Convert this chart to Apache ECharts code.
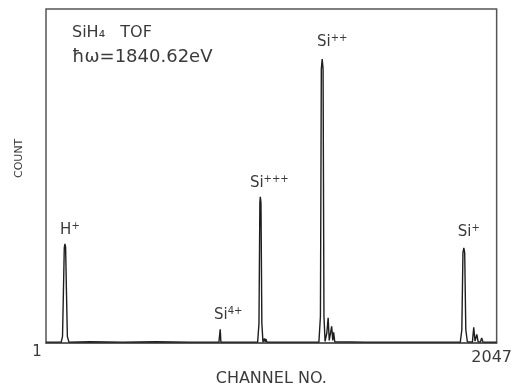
<!DOCTYPE html>
<html>
<head>
<meta charset="utf-8">
<script src="https://cdn.jsdelivr.net/npm/echarts@6/dist/echarts.min.js"></script>
<style>
  html, body { margin: 0; padding: 0; background: #fff; }
  #chart { width: 515px; height: 392px; }
</style>
</head>
<body>
<div id="chart"></div>
<script>
// TOF spectrum (channel no. vs count, count in arbitrary units 0..1000)
const channels = [
  1, 40, 70, 76, 80, 84, 87, 90, 94, 98, 105,
  200, 350, 500, 650, 786,
  789, 792, 795,
  880, 962, 968, 972, 974, 977, 981, 986,
  990, 993, 996, 1000, 1004, 1008, 1012,
  1100, 1240, 1247, 1251, 1255, 1259, 1263, 1268,
  1272, 1276, 1282, 1287, 1293, 1298, 1303, 1307, 1312,
  1450, 1650, 1882, 1889, 1894, 1898, 1902, 1907, 1914,
  1937, 1943, 1949, 1957, 1963, 1973, 1979, 1985, 2047
];
const counts = [
  3, 3, 3, 20, 150, 285, 297, 288, 150, 20, 3,
  4, 3, 4, 3, 3,
  3, 41, 3,
  3, 3, 60, 420, 438, 420, 60, 3,
  3, 14, 4, 12, 3, 8, 3,
  3, 3, 80, 820, 850, 820, 80, 5,
  4, 30, 76, 8, 10, 50, 8, 32, 4,
  3, 3, 3, 40, 270, 285, 270, 40, 4,
  3, 47, 6, 26, 4, 3, 15, 3, 3
];

// ion label: base symbol + superscript charge
const peakIons = ['H', 'Si', 'Si', 'Si', 'Si'];
const peakCharges = ['+', '4+', '+++', '++', '+'];
const peakChannels = [87, 792, 974, 1255, 1898];
const peakCounts = [297, 41, 438, 850, 285];

const axisTicks = [1, 2047];
const countMax = 1000;

const textColor = '#3a3a3a';
const chart = echarts.init(document.getElementById('chart'));

const labelShift = [[5, -1], [8, -2], [9, -1], [10, -5], [5, -3]];

chart.setOption({
  animation: false,
  backgroundColor: '#fff',
  grid: {
    left: 46, right: 17, top: 9, bottom: 43,
    show: true, borderColor: '#555', borderWidth: 1.5, backgroundColor: 'transparent'
  },
  xAxis: {
    type: 'value',
    min: 1, max: 2047,
    splitLine: { show: false },
    axisLine: { show: true, lineStyle: { color: '#555', width: 1.5 } },
    axisTick: { show: false },
    axisLabel: {
      customValues: axisTicks,
      margin: 2,
      color: textColor,
      fontFamily: 'DejaVu Sans',
      fontSize: 16,
      formatter: function (v) {
        return v === 1 ? '{a|' + v + '}' : '{b|' + v + '}';
      },
      rich: {
        a: { fontFamily: 'DejaVu Sans', fontSize: 15, color: textColor, padding: [0, 18, 0, 0] },
        b: { fontFamily: 'DejaVu Sans', fontSize: 16, color: textColor, padding: [5, 10, 0, 0] }
      }
    },
    name: 'CHANNEL NO.',
    nameLocation: 'middle',
    nameGap: 26,
    nameTextStyle: { fontFamily: 'DejaVu Sans', fontSize: 16, color: textColor }
  },
  yAxis: {
    type: 'value',
    min: 0, max: countMax,
    splitLine: { show: false },
    axisLine: { show: false },
    axisTick: { show: false },
    axisLabel: { show: false }
  },
  graphic: [
    {
      type: 'text', left: 72, top: 25,
      style: { text: 'SiH₄   TOF', font: '16px "DejaVu Sans"', fill: textColor }
    },
    {
      type: 'text', left: 72, top: 48,
      style: { text: 'ħω=1840.62eV', font: '18px "DejaVu Sans"', fill: textColor }
    },
    {
      type: 'text', x: 14, y: 178, rotation: Math.PI / 2,
      style: { text: 'COUNT', font: '11px "DejaVu Sans"', fill: textColor }
    }
  ],
  series: [{
    type: 'line',
    data: channels.map((c, i) => [c, counts[i]]),
    showSymbol: false,
    lineStyle: { color: '#1e1e1e', width: 1.4 },
    markPoint: {
      symbol: 'circle',
      symbolSize: 0,
      silent: true,
      data: peakIons.map((n, i) => ({
        name: n + peakCharges[i],
        coord: [peakChannels[i], peakCounts[i]],
        label: {
          show: true,
          position: 'top',
          offset: labelShift[i],
          formatter: '{b|' + n + '}{s|' + peakCharges[i] + '}',
          rich: {
            b: { fontFamily: 'DejaVu Sans', fontSize: 15, color: textColor, verticalAlign: 'bottom' },
            s: { fontFamily: 'DejaVu Sans', fontSize: 10, color: textColor, verticalAlign: 'top', padding: [0, 0, 6, 0] }
          }
        }
      }))
    }
  }]
});
</script>
</body>
</html>
